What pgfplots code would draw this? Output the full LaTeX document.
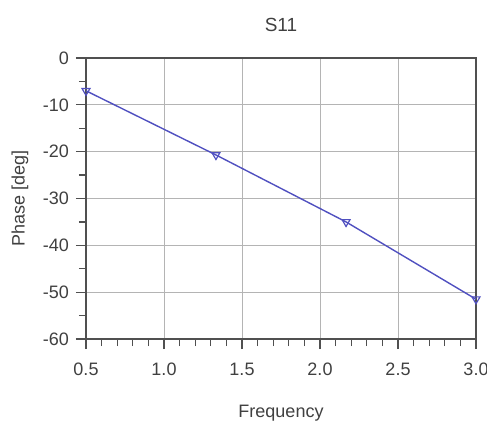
\documentclass[border=0pt]{standalone}
\usepackage{pgfplots}
\pgfplotsset{compat=1.18}
\usepackage{fontspec}
\setmainfont{Liberation Sans}
\definecolor{trace}{HTML}{5050C0}
\definecolor{gridgray}{HTML}{B4B4B4}
\definecolor{axgray}{HTML}{505050}

\begin{document}
\begin{tikzpicture}
\begin{axis}[
  scale only axis,
  width=195pt,
  height=140.5pt,
  xmin=0.5, xmax=3.0,
  ymin=-60, ymax=0,
  xtick={0.5,1.0,...,3.0},
  ytick={-60,-50,...,0},
  minor x tick num=4,
  minor y tick num=1,
  tick align=outside,
  major tick length=5pt,
  minor tick length=3.5pt,
  xtick pos=bottom,
  ytick pos=left,
  grid=major,
  grid style={gridgray, line width=0.5pt},
  axis line style={axgray, line width=0.9pt},
  every tick/.style={axgray, line width=0.6pt},
  xticklabel style={yshift=-3.5pt},
  x tick label style={/pgf/number format/.cd, fixed, fixed zerofill, precision=1},
  /pgf/number format/assume math mode=true,
  tick label style={font=\fontsize{9}{10}\selectfont, text=black!75},
  label style={font=\fontsize{9}{10}\selectfont, text=black!75},
  title style={font=\fontsize{9.5}{11}\selectfont, text=black!75},
  title={S11},
  every axis title shift=0pt,
  title style={at={(rel axis cs:0.5,1.117)}, anchor=center},
  xlabel={Frequency},
  xlabel style={at={(rel axis cs:0.5,-0.263)}, anchor=center},
  ylabel={Phase [deg]},
  ylabel style={at={(rel axis cs:-0.169,0.5)}, anchor=center, rotate=0},
  clip=false,
]
\addplot[trace, line width=0.7pt, mark=triangle, mark options={rotate=180, scale=1.15, fill=white, line width=0.6pt}] coordinates {
  (0.5, -7.0)
  (1.333, -20.7)
  (2.167, -35.0)
  (3.0, -51.5)
};
\end{axis}
\pgfresetboundingbox
\path ([shift={(-43pt,-45pt)}]current axis.south west) rectangle ([shift={(5.5pt,29pt)}]current axis.north east);
\end{tikzpicture}
\end{document}
